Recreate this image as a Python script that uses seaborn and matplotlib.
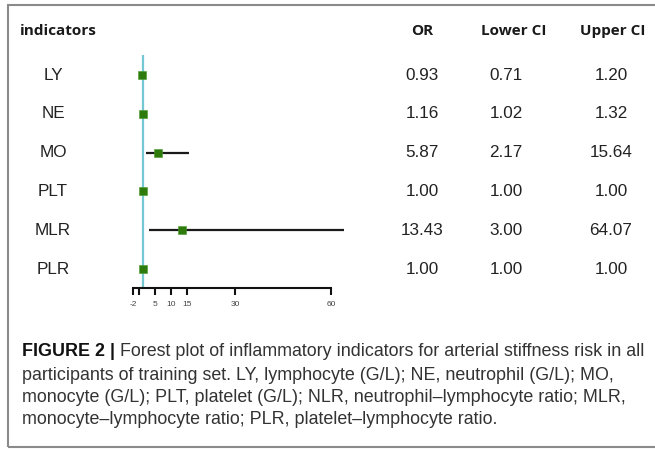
import matplotlib
matplotlib.use("Agg")
import matplotlib.pyplot as plt
import seaborn as sns
import pandas as pd
from matplotlib.patches import Rectangle

indicators = ["LY", "NE", "MO", "PLT", "MLR", "PLR"]
or_vals = [0.93, 1.16, 5.87, 1.00, 13.43, 1.00]
lower_ci = [0.71, 1.02, 2.17, 1.00, 3.00, 1.00]
upper_ci = [1.20, 1.32, 15.64, 1.00, 64.07, 1.00]
or_text = ["0.93", "1.16", "5.87", "1.00", "13.43", "1.00"]
lower_text = ["0.71", "1.02", "2.17", "1.00", "3.00", "1.00"]
upper_text = ["1.20", "1.32", "15.64", "1.00", "64.07", "1.00"]
tick_values = [-2, 0, 5, 10, 15, 30, 60]
tick_labels = ["-2", "", "5", "10", "15", "30", "60"]
headers = ["indicators", "OR", "Lower CI", "Upper CI"]
caption_bold = "FIGURE 2 | "
caption_lines = [
    "Forest plot of inflammatory indicators for arterial stiffness risk in all",
    "participants of training set. LY, lymphocyte (G/L); NE, neutrophil (G/L); MO,",
    "monocyte (G/L); PLT, platelet (G/L); NLR, neutrophil\u2013lymphocyte ratio; MLR,",
    "monocyte\u2013lymphocyte ratio; PLR, platelet\u2013lymphocyte ratio.",
]

sns.set_style("white")
plt.rcParams["font.family"] = ["Liberation Sans", "DejaVu Sans"]

W, H = 655, 450
fig = plt.figure(figsize=(W / 100, H / 100), dpi=100)

def fx(x):
    return x / W

def fy(y):
    return 1 - y / H

df = pd.DataFrame({"ind": indicators, "OR": or_vals, "lo": lower_ci,
                   "hi": upper_ci, "row": range(len(indicators))})

# axes: value -2 at px 133, 3.2 px/unit
x0_px, ppu = 133.0, 3.2
xmin, xmax = -2, 70
top_px, bot_px = 55, 288
ax = fig.add_axes([fx(x0_px), fy(bot_px), (xmax - xmin) * ppu / W, (bot_px - top_px) / H])
ax.set_xlim(xmin, xmax)
row_sp = 38.8
ax.set_ylim(5 + 19 / row_sp, -20 / row_sp)

ax.axvline(1, color="#74c7d3", lw=1.6, zorder=1)
ax.hlines(df["row"], df["lo"], df["hi"], color="#1a1a1a", lw=1.6, zorder=2, clip_on=False)
sns.scatterplot(data=df, x="OR", y="row", marker="s", s=38, color="#2e7a0c",
                edgecolor="#4a9a2a", linewidth=0.4, ax=ax, zorder=3, legend=False, clip_on=False)

for s in ["top", "right", "left"]:
    ax.spines[s].set_visible(False)
ax.spines["bottom"].set_bounds(-2, 60)
ax.spines["bottom"].set_linewidth(1.5)
ax.spines["bottom"].set_color("#111111")
ax.set_yticks([])
ax.set_xticks(tick_values)
ax.set_xticklabels(tick_labels)
ax.tick_params(axis="x", direction="out", length=5, width=1.5, color="#111111",
               labelsize=6, labelcolor="#444444", pad=4, bottom=True)
ax.set_xlabel("")
ax.set_ylabel("")

row_px = [75 + i * row_sp for i in range(len(indicators))]

# headers
hfont = dict(family=["Open Sans", "DejaVu Sans"], weight="bold", fontsize=11, color="#1a1a1a", va="center")
fig.text(fx(20), fy(31), headers[0], ha="left", **hfont)
fig.text(fx(422), fy(31), headers[1], ha="center", **hfont)
fig.text(fx(514), fy(31), headers[2], ha="center", **hfont)
fig.text(fx(613), fy(31), headers[3], ha="center", **hfont)

tfont = dict(fontsize=12.3, color="#222222", va="center", ha="center")
for i, yp in enumerate(row_px):
    fig.text(fx(53), fy(yp), indicators[i], **tfont)
    fig.text(fx(422), fy(yp), or_text[i], **tfont)
    fig.text(fx(506), fy(yp), lower_text[i], **tfont)
    fig.text(fx(611), fy(yp), upper_text[i], **tfont)

# caption
cap_family = ["Liberation Sans", "DejaVu Sans"]
cap_size = 12.9
cap_y = [352, 375, 397, 419]
cap_x = 22
renderer = fig.canvas.get_renderer()
tb = fig.text(fx(cap_x), fy(cap_y[0]), caption_bold, family=cap_family, weight="bold",
              fontsize=cap_size, color="#111111", va="center", ha="left")
bb = tb.get_window_extent(renderer=renderer)
fig.text(bb.x1 / W, fy(cap_y[0]), caption_lines[0], family=cap_family, fontsize=cap_size,
         color="#333333", va="center", ha="left")
for line, yp in zip(caption_lines[1:], cap_y[1:]):
    fig.text(fx(cap_x), fy(yp), line, family=cap_family, fontsize=cap_size,
             color="#333333", va="center", ha="left")

# frame
fig.patches.append(Rectangle((fx(8), fy(447)), (W + 10 - 8) / W, (447 - 5) / H,
                             transform=fig.transFigure, fill=False,
                             edgecolor="#8a8a8a", lw=1.5, clip_on=False))

fig.savefig("out.png", dpi=100)
